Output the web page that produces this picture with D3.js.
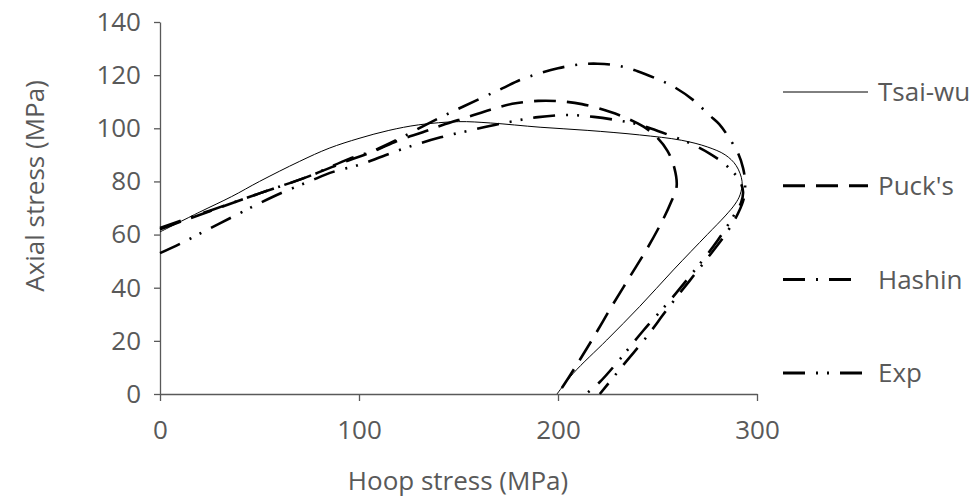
<!DOCTYPE html>
<html>
<head>
<meta charset="utf-8">
<script src="https://cdn.jsdelivr.net/npm/d3@7"></script>
<style>
  body { margin: 0; background: #fff; }
  text { font-family: "Open Sans", sans-serif; fill: #595959; }
</style>
</head>
<body>
<div id="chart-area"></div>
<script>
// failure envelopes, hoop stress (x) vs axial stress (y), MPa
var tsaiHoop  = [0, 20, 36, 50, 70, 85, 100, 115, 130, 150, 166, 191, 215, 241, 262, 275, 284, 289.5, 292.5, 291.5, 289, 284, 275, 258, 241, 224.5, 207.7, 199.5];
var tsaiAxial = [61, 68.5, 74.3, 80, 87.5, 92.5, 96.2, 99.2, 101.3, 102.5, 102, 100.4, 99.2, 97.5, 95.5, 93, 90, 86, 80, 75, 71.5, 67, 60, 46.7, 32.9, 20.3, 7.8, 0];

var puckHoop  = [0, 12, 25, 50, 75, 95, 107, 120, 132, 142, 155, 166, 177, 190, 200, 212, 226, 234.5, 243, 249.5, 255, 258.5, 259.6, 257, 253, 245, 236, 227, 218, 209, 200];
var puckAxial = [62, 65.3, 68.8, 75.5, 82, 88, 91.2, 95.5, 98.5, 101.2, 104.3, 107, 109.2, 110.3, 110.2, 109.1, 106.2, 103.8, 100.6, 96.8, 91.5, 85, 78, 72.5, 66, 55, 44, 33, 21.5, 10.5, 0];

var hashinHoop  = [0, 25, 50, 75, 95, 107, 120, 134, 147, 161, 172, 182, 200, 212, 220, 230, 240, 250, 258, 268, 276, 281, 285, 290.5, 293, 294, 293.5, 290.5, 285, 276, 266, 255, 244, 234, 227, 221];
var hashinAxial = [62.5, 69, 75.5, 82, 88.5, 91.5, 96, 101.5, 106.3, 111.2, 115, 118.5, 122.6, 124.1, 124.3, 123.6, 121.5, 118.5, 115.7, 110.6, 105, 101.6, 97.5, 90.6, 85, 80, 74, 68, 61, 52, 42.5, 32, 21, 12, 5.5, 0];

var expHoop  = [0, 10, 25, 40, 50, 62, 75, 87, 100, 112, 125, 141, 157, 175, 190, 205, 218, 230, 240, 252, 265, 276, 283, 288, 291.5, 293, 292, 289, 284, 278, 267, 256, 243, 231, 221, 214];
var expAxial = [53, 56.5, 62.3, 68, 71.8, 76, 80, 83.6, 86.2, 89.5, 93, 96.6, 99.4, 102.3, 104.2, 105, 104.3, 103, 101.5, 98.5, 94.8, 90.6, 87, 83.5, 80, 76, 72, 68, 62, 55.5, 45, 35, 24, 13, 4.5, 0];

var seriesNames = ["Tsai-wu", "Puck's", "Hashin", "Exp"];
var xTicks = [0, 100, 200, 300];
var yTicks = [0, 20, 40, 60, 80, 100, 120, 140];

function pairs(xs, ys) { return xs.map(function(v, i) { return [v, ys[i]]; }); }

var series = [
  { name: seriesNames[0], pts: pairs(tsaiHoop, tsaiAxial),     width: 1,   dash: null },
  { name: seriesNames[1], pts: pairs(puckHoop, puckAxial),     width: 2.6, dash: "22,11" },
  { name: seriesNames[2], pts: pairs(hashinHoop, hashinAxial), width: 2.6, dash: "22,11,2,11" },
  { name: seriesNames[3], pts: pairs(expHoop, expAxial),       width: 2.6, dash: "22,11,2,9,2,11" }
];

var svg = d3.select("#chart-area").append("svg")
  .attr("width", 974)
  .attr("height", 500);

var x = d3.scaleLinear().domain([0, 300]).range([160, 757]);
var y = d3.scaleLinear().domain([0, 140]).range([394, 22]);

// axes
var yAxis = svg.append("g")
  .attr("transform", "translate(160,0)")
  .call(d3.axisLeft(y).tickValues(yTicks).tickSize(6).tickPadding(13).tickSizeOuter(0));
var xAxis = svg.append("g")
  .attr("transform", "translate(0,394)")
  .call(d3.axisBottom(x).tickValues(xTicks).tickSize(7).tickPadding(20).tickSizeOuter(0));

[xAxis, yAxis].forEach(function(a) {
  a.selectAll("path, line").attr("stroke", "#595959").attr("stroke-width", 1.3);
  a.selectAll("text").attr("font-size", 26).attr("fill", "#595959");
});

var line = d3.line()
  .x(function(d) { return x(d[0]); })
  .y(function(d) { return y(d[1]); })
  .curve(d3.curveCatmullRom.alpha(0.5));

svg.append("g").selectAll("path")
  .data(series)
  .enter().append("path")
  .attr("fill", "none")
  .attr("stroke", "#000")
  .attr("stroke-width", function(d) { return d.width; })
  .attr("stroke-dasharray", function(d) { return d.dash; })
  .attr("d", function(d) { return line(d.pts); });

// axis titles
svg.append("text")
  .attr("x", 458).attr("y", 490)
  .attr("text-anchor", "middle")
  .attr("font-size", 26)
  .text("Hoop stress (MPa)");

svg.append("text")
  .attr("transform", "translate(44,186) rotate(-90)")
  .attr("text-anchor", "middle")
  .attr("font-size", 26)
  .text("Axial stress (MPa)");

// legend
var legend = svg.append("g").selectAll("g")
  .data(series)
  .enter().append("g")
  .attr("transform", function(d, i) { return "translate(783," + (92 + i * 93.7) + ")"; });

legend.append("line")
  .attr("x1", 0).attr("x2", function(d, i) { return i == 2 ? 72 : 85; })
  .attr("stroke", "#000")
  .attr("stroke-width", function(d) { return d.width == 1 ? 1 : 3; })
  .attr("stroke-dasharray", function(d) { return d.dash; });

legend.append("text")
  .attr("x", 95).attr("dy", "0.35em")
  .attr("font-size", 26)
  .text(function(d) { return d.name; });
</script>
</body>
</html>
